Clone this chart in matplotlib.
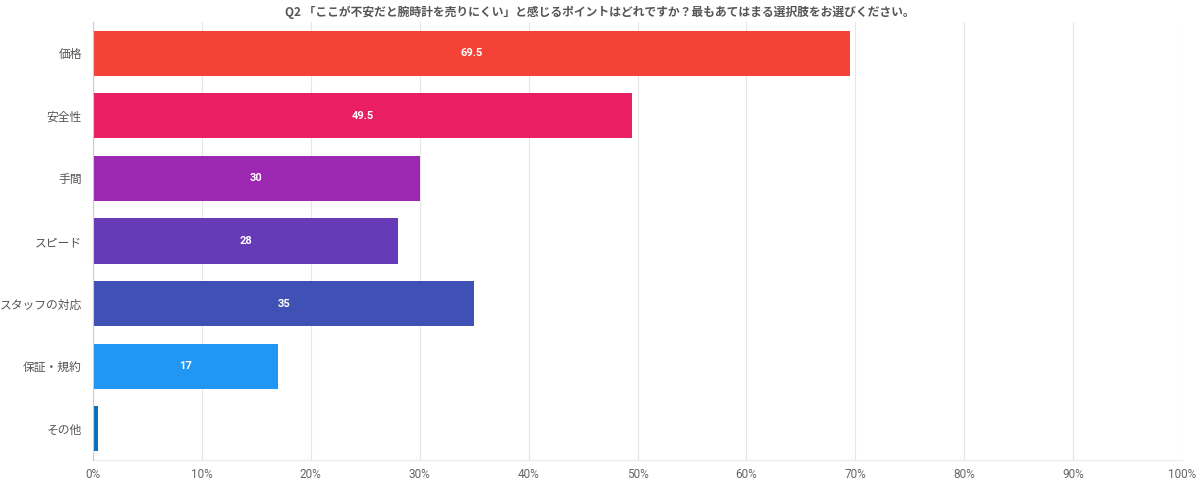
import matplotlib
matplotlib.use('Agg')
import matplotlib.pyplot as plt
import numpy as np

plt.rcParams['font.family'] = ['Noto Sans CJK JP', 'DejaVu Sans']

# data
categories = ['価格', '安全性', '手間', 'スピード', 'スタッフの対応', '保証・規約', 'その他']
values = [69.5, 49.5, 30, 28, 35, 17, 0.5]
labels = ['69.5', '49.5', '30', '28', '35', '17', '']
colors = ['#F44336', '#E91E63', '#9C27B0', '#673AB7', '#3F51B5', '#2196F3', '#0A6EBD']
xticks = list(range(0, 101, 10))
title = 'Q2 「ここが不安だと腕時計を売りにくい」と感じるポイントはどれですか？最もあてはまる選択肢をお選びください。'

fig = plt.figure(figsize=(12, 4.86), dpi=100)
ax = fig.add_axes([0.0775, 0.0535, 0.9075, 0.9012])

y = np.arange(len(categories))
bars = ax.barh(y, values, height=0.72, color=colors, zorder=3)
for b, lab in zip(bars, labels):
    if lab:
        ax.text(b.get_width() / 2, b.get_y() + b.get_height() / 2, lab,
                ha='center', va='center', color='white', fontsize=8,
                fontweight='bold', family='Roboto', zorder=4)

ax.set_xlim(0, 100)
ax.set_ylim(len(categories) - 0.5, -0.5)
ax.set_yticks(y)
ax.set_yticklabels(categories, fontsize=8.5, color='#555555')
ax.set_xticks(xticks)
ax.set_xticklabels(['%d%%' % v for v in xticks], fontsize=8.5, color='#666666',
                   family='Roboto')
ax.tick_params(axis='both', length=0, pad=6)
ax.tick_params(axis='y', pad=8)
ax.grid(axis='x', color='#E6E6E6', linewidth=0.8, zorder=0)
for s in ['top', 'right']:
    ax.spines[s].set_visible(False)
ax.spines['left'].set_color('#CCCCCC')
ax.spines['bottom'].set_color('#F0E8EC')
ax.spines['left'].set_zorder(5)

fig.text(0.5, 0.975, title, ha='center', va='center', fontsize=8.5,
         fontweight='bold', color='#555555')

fig.savefig('out.png', dpi=100)
